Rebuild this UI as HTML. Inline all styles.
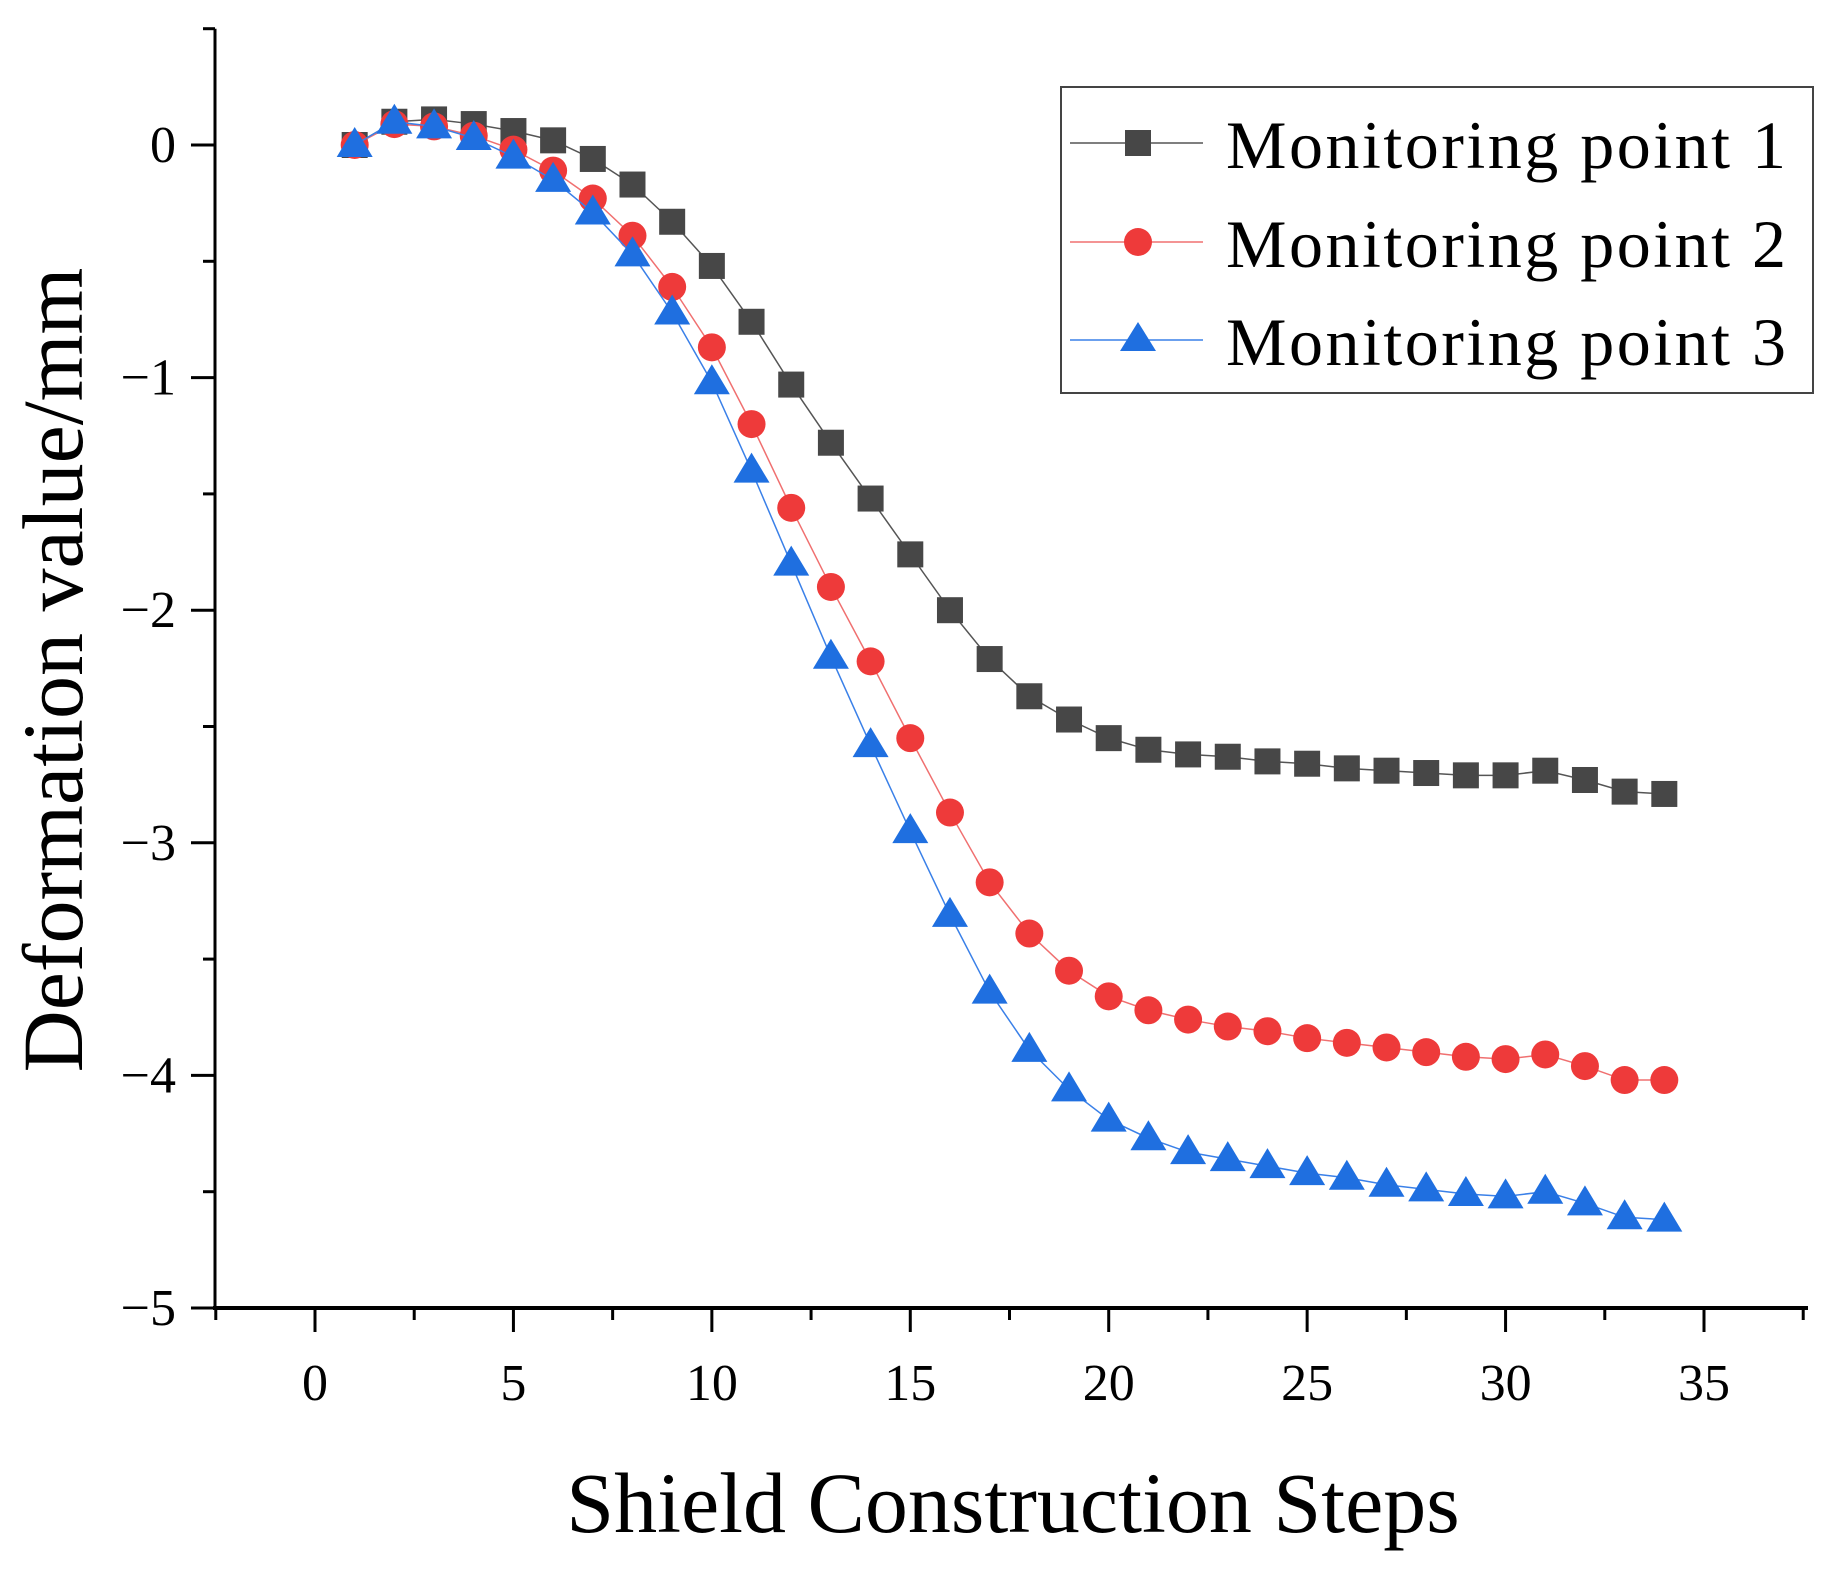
<!DOCTYPE html>
<html><head><meta charset="utf-8"><style>
html,body{margin:0;padding:0;background:#fff;}
svg{display:block;font-family:"Liberation Serif",serif;}
</style></head><body>
<svg id="chart" width="1841" height="1571" viewBox="0 0 1841 1571" xmlns="http://www.w3.org/2000/svg">
<g id="axes"></g>
<g id="series"></g>
<text x="0" y="0" transform="translate(82,670) rotate(-90)" text-anchor="middle" font-size="86" fill="#000">Deformation value/mm</text>
<text x="1013" y="1532" text-anchor="middle" font-size="86" fill="#000">Shield Construction Steps</text>
<g>
<rect x="1061" y="87" width="752" height="306" fill="#fff" stroke="#444" stroke-width="2"/>
<g>
<line x1="1070" y1="143" x2="1203" y2="143" stroke="#555" stroke-width="1.5"/>
<rect x="1125" y="130" width="26" height="26" fill="#474747"/>
<text x="1226" y="168" font-size="68" textLength="560" fill="#000">Monitoring point 1</text></g>
<g>
<line x1="1070" y1="242" x2="1203" y2="242" stroke="#f07070" stroke-width="1.5"/>
<circle cx="1138" cy="242" r="14" fill="#ee3a3a"/>
<text x="1226" y="267" font-size="68" textLength="560" fill="#000">Monitoring point 2</text></g>
<g>
<line x1="1070" y1="340" x2="1203" y2="340" stroke="#3a80e8" stroke-width="1.5"/>
<polygon points="1138,322 1120,351 1156,351" fill="#1f6fe0"/>
<text x="1226" y="365" font-size="68" textLength="560" fill="#000">Monitoring point 3</text></g>
</g>
</svg>
<script>
const steps = [1,2,3,4,5,6,7,8,9,10,11,12,13,14,15,16,17,18,19,20,21,22,23,24,25,26,27,28,29,30,31,32,33,34];
const point1 = [0,0.1,0.11,0.09,0.06,0.02,-0.06,-0.17,-0.33,-0.52,-0.76,-1.03,-1.28,-1.52,-1.76,-2.0,-2.21,-2.37,-2.47,-2.55,-2.6,-2.62,-2.63,-2.65,-2.66,-2.68,-2.69,-2.7,-2.71,-2.71,-2.69,-2.73,-2.78,-2.79];
const point2 = [0,0.09,0.08,0.04,-0.02,-0.11,-0.23,-0.39,-0.61,-0.87,-1.2,-1.56,-1.9,-2.22,-2.55,-2.87,-3.17,-3.39,-3.55,-3.66,-3.72,-3.76,-3.79,-3.81,-3.84,-3.86,-3.88,-3.9,-3.92,-3.93,-3.91,-3.96,-4.02,-4.02];
const point3 = [0,0.1,0.08,0.03,-0.05,-0.15,-0.29,-0.47,-0.72,-1.02,-1.4,-1.8,-2.2,-2.58,-2.95,-3.31,-3.64,-3.89,-4.06,-4.19,-4.27,-4.33,-4.36,-4.39,-4.42,-4.44,-4.47,-4.49,-4.51,-4.52,-4.5,-4.55,-4.61,-4.62];
const xTicks = [0,5,10,15,20,25,30,35];
const yTicks = [0,-1,-2,-3,-4,-5];
const yTickLabels = ["0","\u22121","\u22122","\u22123","\u22124","\u22125"];

const NS="http://www.w3.org/2000/svg";
const X0=315, XU=(1704-315)/35, Y0=145, YU=(1308-145)/5;
const AX=215, RIGHT=1808;
const xs=v=>X0+v*XU, ys=v=>Y0-v*YU;
function mk(tag,attrs,parent){const e=document.createElementNS(NS,tag);for(const k in attrs)e.setAttribute(k,attrs[k]);parent.appendChild(e);return e;}
const axes=document.getElementById('axes'), series=document.getElementById('series');
const TOP=ys(0.5);
let a=mk('line',{x1:AX,y1:TOP,x2:AX,y2:ys(-5)+2,stroke:'#000','stroke-width':3},axes);


a=mk('line',{x1:AX-2,y1:ys(-5),x2:RIGHT,y2:ys(-5),stroke:'#000','stroke-width':4},axes);


for(let v=-2.5;v<=37.6;v+=2.5){const major=Math.abs(v%5)<1e-6;
 const t=mk('line',{x1:xs(v),y1:ys(-5),x2:xs(v),y2:ys(-5)+(major?24:12),stroke:'#000','stroke-width':3},axes);
 
 }
xTicks.forEach(v=>{const t=mk('text',{x:xs(v),y:1400,'text-anchor':'middle','font-size':52,fill:'#000'},axes);t.textContent=String(v);
 
 });
for(let v=0.5;v>=-5.001;v-=0.5){const major=Math.abs(v%1)<1e-6;
 const t=mk('line',{x1:AX,y1:ys(v),x2:AX-(major?24:12),y2:ys(v),stroke:'#000','stroke-width':3},axes);
 
 }
yTicks.forEach((v,i)=>{const t=mk('text',{x:176,y:ys(v)+17,'text-anchor':'end','font-size':52,fill:'#000'},axes);t.textContent=yTickLabels[i];
 
 });
function draw(data,color,lineColor,shape,name){
 const g=mk('g',{},series);
 
 
 const pts=data.map((v,i)=>xs(steps[i])+','+ys(v)).join(' ');
 const l=mk('polyline',{points:pts,fill:'none',stroke:lineColor,'stroke-width':1.5},g);
 
 
 data.forEach((v,i)=>{const cx=xs(steps[i]),cy=ys(v);let m;
  if(shape==='sq')m=mk('rect',{x:cx-13,y:cy-13,width:26,height:26,fill:color},g);
  else if(shape==='ci')m=mk('circle',{cx:cx,cy:cy,r:14,fill:color},g);
  else m=mk('polygon',{points:`${cx},${cy-18} ${cx-18},${cy+12} ${cx+18},${cy+12}`,fill:color},g);
  
  });
}
draw(point1,'#474747','#555','sq','series-point-1');
draw(point2,'#ee3a3a','#f07070','ci','series-point-2');
draw(point3,'#1f6fe0','#3a80e8','tr','series-point-3');
</script>
</body></html>
